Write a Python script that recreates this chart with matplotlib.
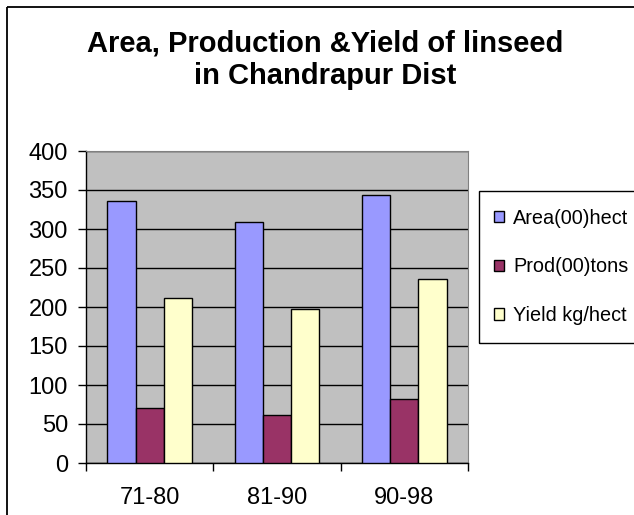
import numpy as np
import matplotlib.pyplot as plt
from matplotlib.patches import Rectangle

# data
periods = ['71-80', '81-90', '90-98']
area = [336, 309, 344]
prod = [71, 61, 82]
yield_kg = [211, 198, 236]
series_names = ['Area(00)hect', 'Prod(00)tons', 'Yield kg/hect']
series_colors = ['#9999FF', '#993366', '#FFFFCC']

plt.rcParams['font.family'] = ['Liberation Sans', 'DejaVu Sans']

W, H = 634, 515
fig = plt.figure(figsize=(W / 100, H / 100), dpi=100)

def px(x, y):
    # pixel coords (top-left origin) -> figure fraction
    return x / W, 1 - y / H

# outer chart frame, right and bottom edges run off the picture
fig.patches.append(Rectangle(px(7, 7), (700 - 7) / W, -(600 - 7) / H,
                             transform=fig.transFigure, fill=False,
                             edgecolor='black', lw=1.3))

ax = fig.add_axes([86 / W, 1 - 463 / H, (468 - 86) / W, (463 - 151) / H])
ax.set_facecolor('#C0C0C0')

x = np.arange(len(periods)) + 0.5
w = 1 / 4.5
for i, (vals, name, col) in enumerate(zip([area, prod, yield_kg], series_names, series_colors)):
    ax.bar(x + (i - 1) * w, vals, width=w, color=col, edgecolor='black',
           linewidth=1.0, label=name, zorder=3)

ax.set_xlim(0, 3)
ax.set_ylim(0, 400)
ax.set_yticks(np.arange(0, 401, 50))
ax.yaxis.grid(True, color='black', linewidth=1.0, zorder=1)
ax.set_axisbelow(True)

ax.set_xticks([0, 1, 2, 3])
ax.set_xticklabels([])
ax.set_xticks(x, minor=True)
ax.set_xticklabels(periods, minor=True)
ax.tick_params(axis='x', which='major', direction='out', length=6, width=1)
ax.tick_params(axis='x', which='minor', length=0, pad=17, labelsize=17)
ax.tick_params(axis='y', direction='out', length=6, width=1, pad=7, labelsize=17)

for s in ['top', 'right']:
    ax.spines[s].set_color('#808080')
for s in ['left', 'bottom']:
    ax.spines[s].set_color('black')
    ax.spines[s].set_linewidth(1.0)

fig.text(px(325, 0)[0], px(0, 84)[1], 'Area, Production &Yield of linseed\nin Chandrapur Dist',
         ha='center', va='baseline', fontsize=21, fontweight='bold', linespacing=1.2)

# legend box, also runs off the right edge
fig.patches.append(Rectangle(px(479, 343), (700 - 479) / W, (343 - 191) / H,
                             transform=fig.transFigure, fill=False,
                             edgecolor='black', lw=1.0))
handles, labels = ax.get_legend_handles_labels()
fig.legend(handles, labels, loc='center left', bbox_to_anchor=px(494, 267),
           frameon=False, fontsize=14.3, handlelength=0.52, handleheight=0.52,
           handletextpad=0.45, labelspacing=1.5, borderpad=0, borderaxespad=0)

fig.savefig('out.png', dpi=100)
